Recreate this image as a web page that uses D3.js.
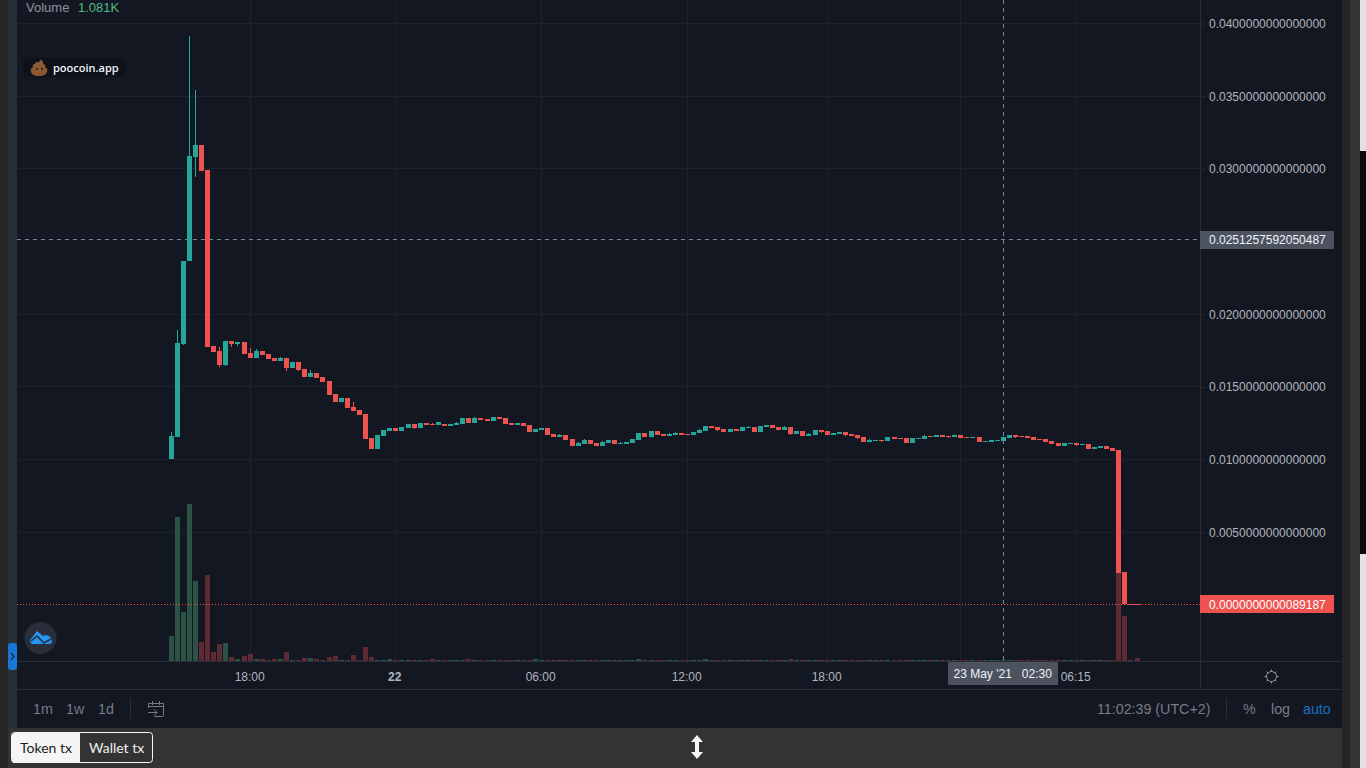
<!DOCTYPE html>
<html lang="en">
<head>
<meta charset="utf-8">
<title>poocoin.app price chart</title>
<script src="https://cdn.jsdelivr.net/npm/d3@7"></script>
<style>
  html, body { margin: 0; padding: 0; background: #262626; overflow: hidden; }
  svg { display: block; }
  text { font-family: "Liberation Sans", Arial, sans-serif; }
</style>
</head>
<body>
<svg id="chart" width="1366" height="768"></svg>
<script>
// Prices are listed in steps of one hundred-thousandth.
const priceUnit = 1e-5;

const opens = [
  1004,1156,1795,2366,3082,3164,2992,1782,1747,1651,1816,1795,1809,1734,1699,1747,1727,1699,1678,1699,
  1630,1672,1623,1568,1596,1568,1541,1451,1396,1424,1362,1341,1314,1149,1073,1163,1197,1218,1197,1218,
  1245,1218,1252,1245,1238,1245,1231,1238,1245,1286,1252,1286,1280,1266,1293,1286,1252,1238,1252,1238,
  1190,1204,1218,1176,1156,1169,1142,1094,1108,1135,1114,1094,1114,1135,1108,1108,1114,1135,1183,1156,
  1197,1176,1163,1169,1183,1176,1169,1183,1197,1231,1224,1211,1190,1211,1197,1218,1224,1190,1224,1238,
  1224,1204,1224,1176,1197,1163,1169,1204,1197,1169,1176,1190,1176,1169,1156,1121,1128,1135,1128,1156,
  1149,1149,1114,1142,1142,1163,1156,1169,1163,1156,1169,1156,1149,1156,1121,1121,1128,1128,1149,1169,
  1163,1163,1156,1142,1142,1128,1114,1094,1108,1114,1101,1108,1073,1080,1094,1080,1066,227,7,7
];
const closes = [
  1163,1802,2366,3089,3164,2986,1775,1740,1651,1816,1795,1809,1727,1699,1747,1720,1692,1678,1699,1630,
  1672,1617,1568,1596,1562,1534,1445,1396,1424,1355,1335,1307,1142,1073,1169,1204,1218,1197,1224,1245,
  1218,1252,1238,1238,1259,1231,1245,1252,1286,1252,1286,1273,1266,1293,1280,1245,1238,1252,1231,1190,
  1211,1218,1169,1156,1169,1135,1094,1114,1135,1108,1094,1121,1135,1108,1114,1121,1142,1183,1156,1197,
  1169,1163,1176,1183,1169,1169,1190,1204,1231,1218,1204,1190,1211,1197,1224,1224,1190,1231,1238,1218,
  1204,1224,1176,1197,1163,1176,1204,1190,1169,1183,1190,1169,1163,1149,1121,1135,1135,1128,1156,1142,
  1142,1114,1149,1149,1163,1156,1169,1156,1156,1169,1149,1149,1156,1121,1128,1135,1135,1156,1169,1156,
  1156,1149,1135,1135,1121,1108,1094,1114,1114,1101,1108,1073,1087,1094,1073,1059,220,7,7,7
];

// Wicks that reach past the candle body, as [candle index, price].
const wickHighs = [
  [0,1190],[1,1892],[3,3914],[4,3543],[8,1775],[13,1768],[14,1761],[18,1706],[23,1617],[30,1396],
  [43,1252],[47,1259],[50,1293],[64,1176],[67,1121],[68,1142],[71,1128],[74,1121],[82,1183],[83,1190],
  [87,1211],[95,1231],[101,1231],[105,1183],[115,1142],[124,1169]
];
const wickLows = [
  [2,1789],[4,2944],[8,1637],[9,1644],[10,1775],[11,1782],[19,1610],[21,1610],[40,1211],[90,1197],
  [102,1169],[107,1183],[111,1163],[113,1142],[117,1121],[128,1149],[139,1149],[149,1094]
];

// Volume per candle, in thousands.
const volumes = [
  25,144,49,157,80,19,86,9,17,18,4,2,5,7,2,2,1,2,2,9,
  1,1,3,3,2,1,4,5,1,1,6,1,14,4,1,1,2,1,1,1,
  1,1,1,2,1,1,1,1,1,2,1,1,1,1,1,1,1,1,1,1,
  2,1,1,1,1,1,1,1,1,1,1,1,1,1,1,1,1,2,1,1,
  1,1,1,1,1,1,1,1,2,1,1,1,1,1,1,1,1,1,1,1,
  1,1,2,1,1,1,1,1,1,1,1,1,1,1,1,1,1,1,1,1,
  1,1,1,1,1,1,1,1,1,1,1,1,1,1,1,1,1,1.081,1,1,
  1,1,1,1,1,1,1,1,1,1,1,1,1,1,1,1,88,45,1,3
];

const priceTicks = [0.04, 0.035, 0.03, 0.02, 0.015, 0.01, 0.005];
const timeTickIndexes = [13, 37, 61, 85, 108, 130, 149];
const timeTickLabels = ["18:00", "22", "06:00", "12:00", "18:00", "", "06:15"];

const crosshairPrice = 0.0251257592050487;
const crosshairIndex = 137;
const crosshairTime = "23 May '21   02:30";
const lastPrice = 0.0000000000089187;
const legendVolume = "1.081K";
const intervalLabels = ["1m", "1w", "1d"];
const scaleLabels = ["%", "log", "auto"];
const clockLabel = "11:02:39 (UTC+2)";
const tabLabels = ["Token tx", "Wallet tx"];

const colors = {
  shell: "#262626", rail: "#2a2e39", pane: "#131722", grid: "#1e222d", line: "#2a2e39",
  up: "#26a69a", down: "#ef5350", volUp: "#2c5145", volDown: "#5e2a33",
  tick: "#b2b5be", muted: "#787b86", cross: "#758696", crossBox: "#4c525e", link: "#1e6fc4"
};

const svg = d3.select("#chart");
const paneLeft = 17, paneRight = 1342, axisX = 1200, timeY = 661, toolTop = 689, footTop = 728;

const y = d3.scaleLinear().domain([0, 0.04]).range([605, 23.5]);
const x = d3.scaleLinear().domain([0, 156]).range([171.6, 1119.3]);
const yVol = d3.scaleLinear().domain([0, 157]).range([timeY, 504]);

// Window frame
const rect = (g, a, b, w, h, fill) => g.append("rect").attr("x", a).attr("y", b).attr("width", w).attr("height", h).attr("fill", fill);
const frame = svg.append("g");
rect(frame, 0, 0, 1366, 768, colors.shell);
rect(frame, 8, 0, 9, footTop, colors.rail);
rect(frame, paneLeft, 0, paneRight - paneLeft, footTop, colors.pane);
rect(frame, 8, footTop, paneRight - 8, 40, "#333333");
rect(frame, 1350, 0, 10, 768, "#333333");
rect(frame, 1360, 0, 6, 768, "#e2e2e2");
rect(frame, 1360, 151, 6, 403, "#0b0b0b");

// Candles snap to whole pixels; the wick and time grid run through the middle pixel.
const snapX = i => Math.floor(x(i) - 2.5);
const midX = i => snapX(i) + 2.5;

// Grid
const grid = svg.append("g").attr("stroke", colors.grid).attr("shape-rendering", "crispEdges");
grid.selectAll("line.h").data(priceTicks).join("line").attr("class", "h")
  .attr("x1", paneLeft).attr("x2", axisX)
  .attr("y1", d => Math.floor(y(d)) + 0.5).attr("y2", d => Math.floor(y(d)) + 0.5);
grid.selectAll("line.v").data(timeTickIndexes).join("line").attr("class", "v")
  .attr("x1", midX).attr("x2", midX)
  .attr("y1", 0).attr("y2", timeY + 4);

// Volume histogram sits under the candles
const candles = opens.map((o, i) => ({ i, open: o * priceUnit, close: closes[i] * priceUnit, volume: volumes[i] }));
const isUp = d => d.close >= d.open && d.i < 158;

svg.append("g").selectAll("rect").data(candles).join("rect")
  .attr("x", d => snapX(d.i)).attr("width", 5)
  .attr("y", d => Math.round(yVol(d.volume)))
  .attr("height", d => timeY - Math.round(yVol(d.volume)))
  .attr("fill", d => isUp(d) ? colors.volUp : colors.volDown);

// Wicks
const highMap = new Map(wickHighs), lowMap = new Map(wickLows);
const wicks = candles.filter(d => highMap.has(d.i) || lowMap.has(d.i)).map(d => ({
  ...d,
  high: (highMap.has(d.i) ? highMap.get(d.i) * priceUnit : Math.max(d.open, d.close)),
  low: (lowMap.has(d.i) ? lowMap.get(d.i) * priceUnit : Math.min(d.open, d.close))
}));
svg.append("g").selectAll("rect").data(wicks).join("rect")
  .attr("x", d => snapX(d.i) + 2).attr("width", 1)
  .attr("y", d => Math.round(y(d.high)))
  .attr("height", d => Math.round(y(d.low)) - Math.round(y(d.high)))
  .attr("fill", d => isUp(d) ? colors.up : colors.down);

// Candle bodies; the flat closing candles touch each other
svg.append("g").selectAll("rect").data(candles).join("rect")
  .attr("x", d => d.i >= 158 ? snapX(d.i) - 1 : snapX(d.i))
  .attr("width", d => d.i >= 158 ? 7 : 5)
  .attr("y", d => Math.round(y(Math.max(d.open, d.close))))
  .attr("height", d => Math.max(1, Math.round(y(Math.min(d.open, d.close))) - Math.round(y(Math.max(d.open, d.close)))))
  .attr("fill", d => isUp(d) ? colors.up : colors.down);

// Frame lines around the axes
const rules = svg.append("g").attr("stroke", colors.line).attr("shape-rendering", "crispEdges");
rules.append("line").attr("x1", paneLeft).attr("x2", paneRight).attr("y1", timeY + 0.5).attr("y2", timeY + 0.5);
rules.append("line").attr("x1", paneLeft).attr("x2", paneRight).attr("y1", toolTop + 0.5).attr("y2", toolTop + 0.5);
rules.append("line").attr("x1", axisX + 0.5).attr("x2", axisX + 0.5).attr("y1", 0).attr("y2", toolTop);

// Price axis
const priceAxis = d3.axisRight(y).tickValues(priceTicks).tickSize(5).tickPadding(4)
  .tickFormat(d => d.toFixed(16));
const priceG = svg.append("g").attr("transform", `translate(${axisX},0)`).call(priceAxis);
priceG.select(".domain").remove();
priceG.selectAll(".tick line").attr("stroke", colors.line);
priceG.selectAll("text").attr("fill", colors.tick).style("font-size", "12px").attr("font-family", "Liberation Sans");

// Time axis labels
svg.append("g").selectAll("text").data(timeTickIndexes).join("text")
  .attr("x", d => midX(d) - 0.8).attr("y", 681)
  .attr("text-anchor", "middle").attr("fill", colors.tick).style("font-size", "12px")
  .attr("font-weight", (d, i) => timeTickLabels[i] === "22" ? "700" : "400")
  .text((d, i) => timeTickLabels[i]);

// Last price line and its tag
const lastY = Math.floor(y(lastPrice)) - 0.5;
svg.append("line").attr("x1", paneLeft).attr("x2", axisX)
  .attr("y1", lastY + 1).attr("y2", lastY + 1)
  .attr("stroke", "#ff4b4b").attr("stroke-dasharray", "1 2").attr("shape-rendering", "crispEdges");
rect(svg, axisX, Math.round(y(lastPrice)) - 10, 134, 18, colors.down);
svg.append("text").attr("x", 1209).attr("y", Math.round(y(lastPrice)) + 3.5)
  .attr("fill", "#ffffff").style("font-size", "12px").text(lastPrice.toFixed(16));

// Crosshair
const crossX = midX(crosshairIndex);
const crossY = Math.floor(y(crosshairPrice)) + 0.5;
const cross = svg.append("g").attr("stroke", colors.cross).attr("stroke-dasharray", "4 4").attr("shape-rendering", "crispEdges");
cross.append("line").attr("x1", paneLeft).attr("x2", axisX).attr("y1", crossY).attr("y2", crossY);
cross.append("line").attr("x1", crossX).attr("x2", crossX).attr("y1", 0).attr("y2", timeY + 4);
rect(svg, axisX, 231, 134, 18, colors.crossBox);
svg.append("text").attr("x", 1209).attr("y", 244)
  .attr("fill", "#f0f3fa").style("font-size", "12px").text(crosshairPrice.toFixed(16));
rect(svg, 948, 662, 110, 23, colors.crossBox);
svg.append("text").attr("x", 953.5).attr("y", 678)
  .attr("fill", "#f0f3fa").style("font-size", "12px").style("white-space", "pre").text(crosshairTime);

// Legend
svg.append("text").attr("x", 26).attr("y", 12).attr("fill", "#8f929c").style("font-size", "13px").text("Volume");
svg.append("text").attr("x", 78).attr("y", 12).attr("fill", "#53b987").style("font-size", "13px").text(legendVolume);

// Watermark badge
const badge = svg.append("g");
badge.append("rect").attr("x", 23).attr("y", 58).attr("width", 104).attr("height", 19).attr("rx", 8).attr("fill", "#0e1119");
badge.append("path").attr("fill", "#8b5a33")
  .attr("d", "M41 59c1 2 3 3 2 5 2 0 3 2 2 3 2 1 3 3 2 5-1 3-4 4-8 4s-7-1-8-4c-1-2 0-4 2-5-1-1 0-3 2-3 0-2 3-2 4-2 1-1 2-2 2-3z");
badge.append("circle").attr("cx", 37).attr("cy", 69).attr("r", 1).attr("fill", "#2a180c");
badge.append("circle").attr("cx", 42).attr("cy", 69).attr("r", 1).attr("fill", "#2a180c");
badge.append("text").attr("x", 53).attr("y", 72).attr("fill", "#f0f3fa")
  .style("font-family", "'Open Sans'").style("font-size", "11px").attr("font-weight", "600").text("poocoin.app");

// Round logo button
svg.append("circle").attr("cx", 40.5).attr("cy", 638).attr("r", 16).attr("fill", "#2a2e39");
svg.append("path").attr("fill", "#2196f3")
  .attr("d", "M30 640L37 631L43 636L46 635Q51 636 52 641Q52 644 49 644L33 644Q30 644 30 640z");
svg.append("path").attr("fill", "none").attr("stroke", "#2a2e39").attr("stroke-width", 1.6)
  .attr("d", "M31 641L37 636L44 643L51 639");

// Collapse handle
svg.append("rect").attr("x", 8).attr("y", 643).attr("width", 9).attr("height", 27).attr("rx", 3).attr("fill", "#1976d2");
svg.append("path").attr("fill", "none").attr("stroke", "#0d2a4a").attr("stroke-width", 1.2).attr("d", "M11 653l3 3.5-3 3.5");

// Sun icon on the axis corner
const sun = svg.append("g").attr("stroke", "#9598a1").attr("fill", "none").attr("transform", "translate(1271.5,676.5)");
sun.append("circle").attr("r", 5);
d3.range(0, 360, 45).forEach(a => {
  const r = a * Math.PI / 180;
  sun.append("line").attr("x1", 5 * Math.cos(r)).attr("y1", 5 * Math.sin(r)).attr("x2", 7 * Math.cos(r)).attr("y2", 7 * Math.sin(r));
});

// Toolbar
const toolFont = "14.25px";
svg.append("g").selectAll("text").data(intervalLabels).join("text")
  .attr("x", (d, i) => [33, 66, 98][i]).attr("y", 714)
  .attr("fill", colors.muted).style("font-size", toolFont).text(d => d);
svg.append("g").attr("stroke", colors.line).attr("shape-rendering", "crispEdges").selectAll("line").data([130, 1226]).join("line")
  .attr("x1", d => d + 0.5).attr("x2", d => d + 0.5).attr("y1", 698).attr("y2", 719);
svg.append("path").attr("fill", "none").attr("stroke", colors.muted)
  .attr("d", "M148.5 708v-4.5h15v12a1 1 0 0 1-1 1h-8M148.5 706.5h15M152.5 701v4M159.5 701v4M148 712.5h9M154 709.5l3 3-3 3");
svg.append("text").attr("x", 1097).attr("y", 714).attr("fill", colors.muted).style("font-size", toolFont).text(clockLabel);
svg.append("g").selectAll("text").data(scaleLabels).join("text")
  .attr("x", (d, i) => [1243, 1271, 1303][i]).attr("y", 714)
  .attr("fill", d => d === "auto" ? colors.link : colors.muted).style("font-size", toolFont).text(d => d);

// Footer tabs
const tabs = svg.append("g");
tabs.append("rect").attr("x", 11.5).attr("y", 732.5).attr("width", 141).attr("height", 30).attr("rx", 3).attr("fill", "#333333").attr("stroke", "#f5f5f5");
tabs.append("path").attr("fill", "#f5f5f5").attr("d", "M15 733h65v30h-65a3 3 0 0 1-3-3v-24a3 3 0 0 1 3-3z");
tabs.selectAll("text").data(tabLabels).join("text")
  .attr("x", (d, i) => [20, 89][i]).attr("y", 753)
  .attr("fill", (d, i) => i === 0 ? "#1c1c1c" : "#f0f0f0")
  .style("font-family", "Lato").style("font-size", "14px").text(d => d);

// Resize arrow
svg.append("path").attr("fill", "#f5f5f5")
  .attr("d", "M697 735l6 7h-4v10h4l-6 7-6-7h4v-10h-4z");
</script>
</body>
</html>
